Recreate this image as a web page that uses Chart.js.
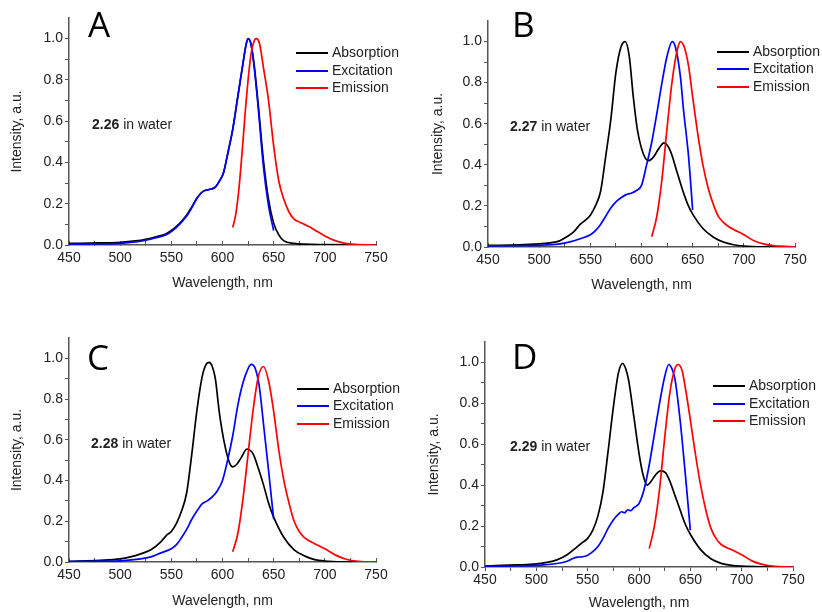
<!DOCTYPE html>
<html><head><meta charset="utf-8">
<script src="https://cdn.jsdelivr.net/npm/chart.js@4.4.1/dist/chart.umd.min.js"></script>
<style>
html,body{margin:0;padding:0;background:#fff;}
#wrap{position:relative;width:822px;height:612px;overflow:hidden;}
canvas{position:absolute;}
</style></head><body>
<div id="wrap">
<canvas id="cA" width="411" height="306" style="left:0;top:0"></canvas>
<canvas id="cB" width="411" height="306" style="left:411px;top:0"></canvas>
<canvas id="cC" width="411" height="306" style="left:0;top:306px"></canvas>
<canvas id="cD" width="411" height="306" style="left:411px;top:306px"></canvas>
</div>
<script>
const seriesNames = ['Absorption', 'Excitation', 'Emission'];
const compounds = ['2.26', '2.27', '2.28', '2.29'];
const panelLetters = ['A', 'B', 'C', 'D'];
const xTickValues = [450, 500, 550, 600, 650, 700, 750];
const yTickLabels = ['0.0', '0.2', '0.4', '0.6', '0.8', '1.0'];

// Panel A (2.26)
const absA_wl = [450, 480, 500, 515, 525, 535, 545, 550, 555, 560, 565, 570, 575, 581, 588, 593, 597, 601, 605, 610, 615, 620, 623, 625, 628, 631, 635, 640, 645, 650, 655, 660, 670, 680, 700, 750];
const absA_I  = [0.008, 0.01, 0.013, 0.02, 0.028, 0.04, 0.055, 0.07, 0.09, 0.115, 0.145, 0.185, 0.228, 0.26, 0.27, 0.28, 0.31, 0.35, 0.44, 0.56, 0.72, 0.88, 0.97, 1.0, 0.97, 0.87, 0.675, 0.41, 0.22, 0.106, 0.049, 0.02, 0.008, 0.004, 0.002, 0.0];
const exA_wl  = [450, 480, 500, 515, 525, 535, 545, 550, 555, 560, 565, 570, 575, 581, 588, 593, 597, 601, 605, 610, 615, 620, 623, 625, 628, 631, 635, 640, 645, 650];
const exA_I   = [0.003, 0.005, 0.008, 0.015, 0.023, 0.035, 0.05, 0.065, 0.085, 0.11, 0.14, 0.18, 0.225, 0.26, 0.27, 0.28, 0.31, 0.35, 0.44, 0.56, 0.72, 0.88, 0.97, 1.0, 0.97, 0.86, 0.66, 0.38, 0.19, 0.07];
const emA_wl  = [610, 613, 616, 619, 622, 625, 628, 631, 633, 636, 640, 645, 650, 655, 660, 665, 670, 675, 680, 685, 690, 700, 710, 720, 730, 750];
const emA_I   = [0.085, 0.15, 0.27, 0.44, 0.63, 0.8, 0.93, 0.99, 1.0, 0.98, 0.86, 0.7, 0.48, 0.31, 0.22, 0.16, 0.125, 0.112, 0.1, 0.088, 0.073, 0.044, 0.021, 0.008, 0.003, 0.0];

// Panel B (2.27)
const absB_wl = [450, 480, 500, 510, 520, 527, 534, 540, 545, 550, 555, 560, 565, 570, 575, 580, 584, 588, 592, 596, 600, 604, 607, 612, 617, 622, 628, 635, 640, 645, 650, 660, 670, 680, 690, 700, 720, 750];
const absB_I  = [0.008, 0.01, 0.015, 0.02, 0.03, 0.05, 0.075, 0.11, 0.13, 0.155, 0.2, 0.27, 0.44, 0.62, 0.85, 0.975, 1.0, 0.93, 0.73, 0.57, 0.48, 0.43, 0.42, 0.44, 0.48, 0.507, 0.47, 0.36, 0.28, 0.21, 0.16, 0.09, 0.049, 0.024, 0.011, 0.005, 0.001, 0.0];
const exB_wl  = [450, 480, 500, 520, 530, 540, 550, 555, 560, 565, 570, 575, 580, 585, 590, 595, 600, 605, 610, 615, 620, 625, 630, 633, 638, 641, 646, 650];
const exB_I   = [0.005, 0.006, 0.008, 0.015, 0.025, 0.04, 0.06, 0.08, 0.11, 0.15, 0.19, 0.22, 0.24, 0.255, 0.262, 0.275, 0.3, 0.4, 0.51, 0.65, 0.8, 0.93, 1.0, 0.976, 0.83, 0.67, 0.44, 0.18];
const emB_wl  = [610, 615, 620, 625, 630, 635, 638, 642, 646, 650, 655, 660, 665, 670, 675, 680, 685, 690, 700, 710, 720, 730, 740, 750];
const emB_I   = [0.05, 0.15, 0.33, 0.58, 0.81, 0.96, 1.0, 0.97, 0.88, 0.73, 0.55, 0.4, 0.29, 0.21, 0.15, 0.12, 0.1, 0.085, 0.06, 0.03, 0.014, 0.006, 0.003, 0.0];

// Panel C (2.28)
const absC_wl = [450, 480, 500, 510, 520, 530, 540, 545, 550, 555, 560, 565, 570, 575, 580, 584, 587, 590, 593, 597, 602, 607, 610, 614, 618, 624, 630, 635, 640, 645, 650, 660, 670, 680, 690, 700, 720, 750];
const absC_I  = [0.003, 0.008, 0.015, 0.025, 0.04, 0.06, 0.1, 0.13, 0.15, 0.19, 0.25, 0.34, 0.53, 0.745, 0.907, 0.97, 0.98, 0.96, 0.9, 0.73, 0.58, 0.485, 0.467, 0.48, 0.51, 0.555, 0.53, 0.46, 0.38, 0.29, 0.22, 0.12, 0.06, 0.03, 0.012, 0.005, 0.001, 0.0];
const exC_wl  = [450, 480, 500, 520, 530, 540, 550, 555, 560, 565, 570, 575, 580, 585, 590, 595, 600, 605, 610, 615, 620, 625, 628, 632, 636, 640, 645, 650];
const exC_I   = [0.002, 0.004, 0.006, 0.015, 0.025, 0.045, 0.065, 0.085, 0.12, 0.16, 0.21, 0.25, 0.285, 0.3, 0.32, 0.35, 0.4, 0.5, 0.62, 0.77, 0.88, 0.95, 0.97, 0.95, 0.86, 0.68, 0.45, 0.21];
const emC_wl  = [610, 615, 620, 625, 630, 635, 640, 645, 650, 655, 660, 665, 670, 675, 680, 690, 700, 710, 720, 730, 750];
const emC_I   = [0.05, 0.14, 0.31, 0.53, 0.75, 0.91, 0.96, 0.89, 0.74, 0.55, 0.4, 0.29, 0.2, 0.15, 0.12, 0.09, 0.065, 0.035, 0.015, 0.005, 0.0];

// Panel D (2.29)
const absD_wl = [450, 480, 500, 520, 530, 540, 545, 550, 555, 560, 565, 570, 575, 580, 584, 587, 590, 595, 600, 604, 608, 612, 616, 621, 626, 630, 635, 640, 645, 650, 660, 670, 680, 690, 700, 720, 750];
const absD_I  = [0.005, 0.01, 0.015, 0.035, 0.06, 0.1, 0.12, 0.14, 0.18, 0.25, 0.37, 0.57, 0.78, 0.95, 0.995, 0.97, 0.91, 0.735, 0.556, 0.45, 0.4, 0.42, 0.45, 0.47, 0.46, 0.42, 0.35, 0.28, 0.21, 0.16, 0.085, 0.04, 0.018, 0.008, 0.004, 0.001, 0.0];
const exD_wl  = [450, 480, 500, 520, 530, 535, 540, 545, 550, 555, 560, 565, 570, 575, 580, 583, 586, 589, 592, 595, 598, 600, 605, 610, 615, 620, 625, 629, 632, 635, 640, 645, 650];
const exD_I   = [0.003, 0.005, 0.008, 0.017, 0.028, 0.04, 0.048, 0.05, 0.058, 0.075, 0.1, 0.14, 0.19, 0.23, 0.258, 0.27, 0.265, 0.28, 0.275, 0.29, 0.3, 0.31, 0.38, 0.5, 0.65, 0.8, 0.93, 0.99, 0.97, 0.92, 0.72, 0.46, 0.18];
const emD_wl  = [610, 615, 620, 625, 630, 635, 638, 642, 645, 650, 655, 660, 665, 670, 675, 680, 690, 700, 710, 720, 730, 750];
const emD_I   = [0.09, 0.2, 0.38, 0.63, 0.85, 0.97, 0.99, 0.96, 0.88, 0.72, 0.55, 0.4, 0.28, 0.19, 0.14, 0.11, 0.085, 0.06, 0.03, 0.013, 0.005, 0.0];

const seriesColors = ['#000000', '#0000ff', '#ff0000'];

function zip(wl, I) { return wl.map((w, i) => ({x: w, y: I[i]})); }

const panels = [
  {id: 'cA', series: [[absA_wl, absA_I], [exA_wl, exA_I], [emA_wl, emA_I]],
   L: 69, R: 376, T: 18, B: 245, yTitlePad: 8.6, xTitlePad: 14.6, xTick: -4,
   letterPos: [88, 37], anno: [92, 125], legend: {x1: 296, x2: 328, tx: 332, ys: [53, 71, 88]}},
  {id: 'cB', series: [[absB_wl, absB_I], [exB_wl, exB_I], [emB_wl, emB_I]],
   L: 77, R: 384, T: 21, B: 247, yTitlePad: 18.6, xTitlePad: 12.6, xTick: -4,
   letterPos: [101, 37], anno: [99, 127], legend: {x1: 306, x2: 338, tx: 342, ys: [52, 69, 87]}},
  {id: 'cC', series: [[absC_wl, absC_I], [exC_wl, exC_I], [emC_wl, emC_I]],
   L: 69, R: 376, T: 32, B: 256, yTitlePad: 8.6, xTitlePad: 2.6, xTick: -4,
   letterPos: [87, 64], anno: [91, 138], legend: {x1: 297, x2: 329, tx: 333, ys: [83, 100, 118]}},
  {id: 'cD', series: [[absD_wl, absD_I], [exD_wl, exD_I], [emD_wl, emD_I]],
   L: 74, R: 382, T: 36, B: 261, yTitlePad: 14.6, xTitlePad: 0, xTick: 4,
   letterPos: [101, 63], anno: [99, 141], legend: {x1: 302, x2: 334, tx: 338, ys: [80, 98, 115]}}
];

const FONT = '"Liberation Sans", Arial, sans-serif';
const TEXT = '#222';
const AXIS = '#555';

const decorPlugin = {
  id: 'decor',
  afterDraw(chart, args, o) {
    const ctx = chart.ctx;
    ctx.save();
    ctx.fillStyle = '#000';
    ctx.font = '35px "Open Sans", sans-serif';
    ctx.textAlign = 'left';
    ctx.textBaseline = 'alphabetic';
    ctx.fillText(o.letter, o.letterPos[0], o.letterPos[1]);
    ctx.fillStyle = TEXT;
    ctx.textBaseline = 'middle';
    ctx.font = 'bold 14px ' + FONT;
    ctx.fillText(o.compound, o.anno[0], o.anno[1]);
    const w = ctx.measureText(o.compound).width;
    ctx.font = '14px ' + FONT;
    ctx.fillText(' in water', o.anno[0] + w, o.anno[1]);
    chart.data.datasets.forEach((ds, i) => {
      const y = o.legend.ys[i];
      ctx.strokeStyle = ds.borderColor;
      ctx.lineWidth = 2;
      ctx.beginPath();
      ctx.moveTo(o.legend.x1, y);
      ctx.lineTo(o.legend.x2, y);
      ctx.stroke();
      ctx.fillStyle = TEXT;
      ctx.fillText(ds.label, o.legend.tx, y);
    });
    ctx.restore();
  }
};

panels.forEach((p, k) => {
  const datasets = p.series.map((s, i) => ({
    label: seriesNames[i],
    data: zip(s[0], s[1]),
    borderColor: seriesColors[i],
    backgroundColor: seriesColors[i],
    borderWidth: 1.7,
    pointRadius: 0,
    cubicInterpolationMode: 'monotone',
    fill: false,
    order: 3 - i
  }));
  new Chart(document.getElementById(p.id), {
    type: 'line',
    data: {datasets},
    plugins: [decorPlugin],
    options: {
      responsive: false,
      animation: false,
      events: [],
      layout: {padding: {left: 0, top: p.T, right: 411 - p.R, bottom: 0}},
      plugins: {
        legend: {display: false},
        tooltip: {enabled: false},
        decor: {letter: panelLetters[k], compound: compounds[k], letterPos: p.letterPos, anno: p.anno, legend: p.legend}
      },
      scales: {
        x: {
          type: 'linear', min: 450, max: 750,
          afterFit: (s) => { s.height = 306 - p.B; },
          ticks: {
            stepSize: 25, autoSkip: false, maxRotation: 0, minRotation: 0, padding: p.xTick < 0 ? 9 : 1,
            color: TEXT, font: {family: FONT, size: 14},
            callback: (v) => xTickValues.includes(v) ? String(v) : ''
          },
          grid: {drawOnChartArea: false, drawTicks: true, tickLength: p.xTick, color: AXIS, tickWidth: 1},
          border: {display: true, color: AXIS, width: 1.5},
          title: {display: true, text: 'Wavelength, nm', color: TEXT, font: {family: FONT, size: 14}, padding: {top: 0, bottom: p.xTitlePad}}
        },
        y: {
          type: 'linear', min: 0, max: 1.1,
          afterFit: (s) => { s.width = p.L; },
          ticks: {
            stepSize: 0.1, autoSkip: false, padding: 2,
            color: TEXT, font: {family: FONT, size: 14},
            callback: (v) => {
              const idx = yTickLabels.findIndex(l => Math.abs(parseFloat(l) - v) < 1e-6);
              return idx >= 0 ? yTickLabels[idx] : '';
            }
          },
          grid: {drawOnChartArea: false, drawTicks: true, tickLength: 4, tickWidth: 1,
                 color: (c) => (c.tick && c.tick.value > 1.05) ? 'rgba(0,0,0,0)' : AXIS},
          border: {display: true, color: AXIS, width: 1.5},
          title: {display: true, text: 'Intensity, a.u.', color: TEXT, font: {family: FONT, size: 14}, padding: {top: p.yTitlePad, bottom: 0}}
        }
      }
    }
  });
});
</script>
</body></html>
